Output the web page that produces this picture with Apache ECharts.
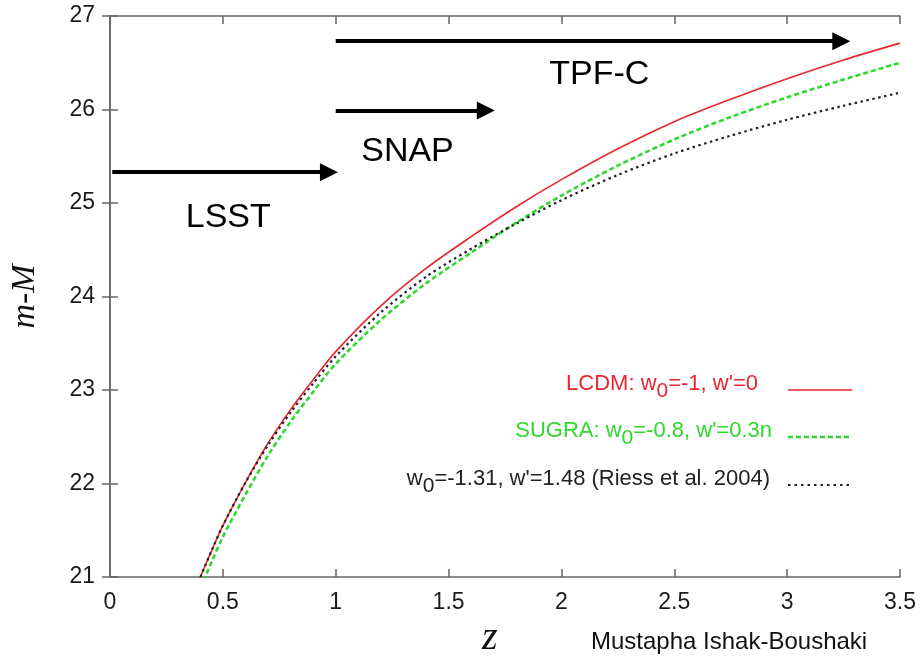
<!DOCTYPE html>
<html>
<head>
<meta charset="utf-8">
<script src="https://cdn.jsdelivr.net/npm/echarts@6/dist/echarts.min.js"></script>
<style>
html,body{margin:0;padding:0;background:#fff;}
#c{width:924px;height:659px;}
</style>
</head>
<body>
<div id="c"></div>
<script>
// ---- data ----
const zValues   = [0.4, 0.45, 0.5, 0.6, 0.7, 0.8, 0.9, 1.0, 1.2, 1.4, 1.6, 1.8, 2.0, 2.25, 2.5, 2.75, 3.0, 3.25, 3.5];
const lcdm      = [21.00, 21.28, 21.55, 22.01, 22.43, 22.79, 23.11, 23.41, 23.90, 24.30, 24.64, 24.96, 25.25, 25.58, 25.87, 26.11, 26.33, 26.53, 26.71];
const sugra     = [20.88, 21.16, 21.43, 21.88, 22.30, 22.66, 22.98, 23.28, 23.75, 24.14, 24.47, 24.79, 25.08, 25.40, 25.68, 25.92, 26.13, 26.32, 26.50];
const riess     = [21.00, 21.28, 21.55, 22.01, 22.41, 22.76, 23.07, 23.36, 23.83, 24.21, 24.51, 24.78, 25.03, 25.30, 25.53, 25.72, 25.89, 26.04, 26.18];

const xTicks = {min: 0, max: 3.5, interval: 0.5};
const yTicks = {min: 21, max: 27, interval: 1};

const arrowLabels = ['LSST', 'SNAP', 'TPF-C'];
const arrowStart  = [[0.01, 25.33], [1.0, 25.99], [1.0, 26.73]];
const arrowEnd    = [[0.97, 25.33], [1.665, 25.99], [3.24, 26.73]];
const labelPos    = [[0.524, 24.84], [1.318, 25.55], [2.168, 26.37]];

const seriesNames = ['LCDM', 'SUGRA', 'Riess'];

function pairs(xs, ys){ return xs.map((x,i)=>[x, ys[i]]); }

const FONT = "'Liberation Sans', Arial, Helvetica, sans-serif";
const AXC = '#666';

const chart = echarts.init(document.getElementById('c'), null, {renderer: 'canvas'});

const axisCommon = {
  type: 'value',
  axisLine: {show: true, lineStyle: {color: AXC, width: 1.5}},
  axisTick: {show: true, inside: true, length: 8, lineStyle: {color: AXC, width: 1.5}},
  splitLine: {show: false}
};

const option = {
  animation: false,
  backgroundColor: '#fff',
  grid: {left: 106, right: 24, top: 16, bottom: 82, containLabel: false},
  xAxis: [
    Object.assign({}, axisCommon, {
      position: 'bottom', min: xTicks.min, max: xTicks.max, interval: xTicks.interval,
      axisLabel: {show: true, margin: 14, fontSize: 23, color: '#1a1a1a', fontFamily: FONT}
    }),
    Object.assign({}, axisCommon, {
      position: 'top', min: xTicks.min, max: xTicks.max, interval: xTicks.interval,
      axisLabel: {show: false}
    })
  ],
  yAxis: [
    Object.assign({}, axisCommon, {
      position: 'left', min: yTicks.min, max: yTicks.max, interval: yTicks.interval,
      axisLabel: {show: true, margin: 15, fontSize: 23, color: '#1a1a1a', fontFamily: FONT},
      name: 'm-M', nameLocation: 'middle', nameGap: 68, nameRotate: 90,
      nameTextStyle: {fontFamily: "'Liberation Serif', 'Times New Roman', serif", fontStyle: 'italic', fontSize: 34, color: '#111'}
    }),
    Object.assign({}, axisCommon, {
      position: 'right', min: yTicks.min, max: yTicks.max, interval: yTicks.interval,
      axisLabel: {show: false}
    })
  ],
  series: [
    {
      name: seriesNames[0], type: 'line', data: pairs(zValues, lcdm), smooth: 0.3, symbol: 'none', clip: true,
      lineStyle: {color: '#e8262e', width: 1.6}, z: 3
    },
    {
      name: seriesNames[1], type: 'line', data: pairs(zValues, sugra), smooth: 0.3, symbol: 'none', clip: true,
      lineStyle: {color: '#2fd82f', width: 2.6, type: [5, 3]}, z: 2
    },
    {
      name: seriesNames[2], type: 'line', data: pairs(zValues, riess), smooth: 0.3, symbol: 'none', clip: true,
      lineStyle: {color: '#222', width: 2.2, type: [2.5, 3.5]}, z: 4
    },
    {
      type: 'lines', coordinateSystem: 'cartesian2d', polyline: false,
      symbol: ['none', 'triangle'], symbolSize: 18,
      lineStyle: {color: '#000', width: 4, opacity: 1},
      data: arrowStart.map((s, i) => ({coords: [s, arrowEnd[i]]})),
      z: 5
    },
    {
      type: 'scatter', symbolSize: 0, silent: true,
      data: labelPos.map((p, i) => ({value: p, name: arrowLabels[i]})),
      label: {show: true, position: 'inside', formatter: p => p.name, fontSize: 34, color: '#000',
              textBorderWidth: 0, opacity: 1, fontFamily: FONT},
      itemStyle: {opacity: 1},
      z: 6
    }
  ],
  graphic: [
    // legend
    {type: 'text', right: 924 - 758, top: 373, style: {
      text: 'LCDM: w{s|0}=-1, w\'=0', fill: '#e8262e', font: '22px ' + FONT,
      rich: {s: {fontSize: 21, fill: '#e8262e', fontFamily: FONT, padding: [14, 0, 0, 0]}}
    }},
    {type: 'line', shape: {x1: 788, y1: 390, x2: 852, y2: 390}, style: {stroke: '#e8262e', lineWidth: 1.6}},
    {type: 'text', right: 924 - 772, top: 420, style: {
      text: 'SUGRA: w{s|0}=-0.8, w\'=0.3n', fill: '#2fd82f', font: '22px ' + FONT,
      rich: {s: {fontSize: 21, fill: '#2fd82f', fontFamily: FONT, padding: [14, 0, 0, 0]}}
    }},
    {type: 'line', shape: {x1: 788, y1: 437, x2: 852, y2: 437}, style: {stroke: '#2fd82f', lineWidth: 2.6, lineDash: [5, 3]}},
    {type: 'text', right: 924 - 770, top: 468, style: {
      text: 'w{s|0}=-1.31, w\'=1.48 (Riess et al. 2004)', fill: '#222', font: '22px ' + FONT,
      rich: {s: {fontSize: 21, fill: '#222', fontFamily: FONT, padding: [14, 0, 0, 0]}}
    }},
    {type: 'line', shape: {x1: 788, y1: 485, x2: 850, y2: 485}, style: {stroke: '#222', lineWidth: 2, lineDash: [2.5, 4]}},
    // x axis name
    {type: 'text', left: 482, top: 618, style: {text: 'z', font: 'italic 40px "Liberation Serif", "Times New Roman", serif', fill: '#111'}},
    // credit
    {type: 'text', left: 591, top: 630, style: {text: 'Mustapha Ishak-Boushaki', font: '24px ' + FONT, fill: '#111'}}
  ]
};

chart.setOption(option);
</script>
</body>
</html>
